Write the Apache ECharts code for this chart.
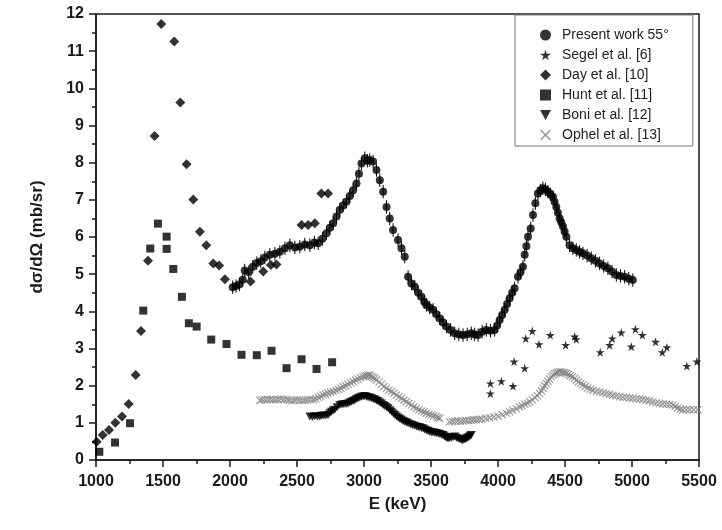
<!DOCTYPE html>
<html>
<head>
<meta charset="utf-8">
<script src="https://cdn.jsdelivr.net/npm/echarts@6/dist/echarts.min.js"></script>
<style>
  html, body { margin: 0; padding: 0; background: #fff; }
  #chart { width: 722px; height: 530px; }
</style>
</head>
<body>
<div id="chart"></div>
<script>
// x: energy E (keV), y: dσ/dΩ (mb/sr)
const presentE = [2020, 2045, 2070, 2095, 2110, 2140, 2170, 2200, 2230, 2260, 2297, 2335, 2372, 2410, 2447, 2484, 2521, 2558, 2596, 2630, 2658, 2690, 2720, 2745, 2770, 2795, 2819, 2844, 2869, 2894, 2919, 2944, 2962, 2981, 3006, 3025, 3043, 3068, 3093, 3118, 3143, 3168, 3192, 3217, 3254, 3280, 3304, 3329, 3354, 3379, 3404, 3429, 3450, 3466, 3490, 3516, 3540, 3565, 3590, 3615, 3646, 3677, 3708, 3739, 3770, 3801, 3826, 3851, 3882, 3913, 3944, 3975, 3994, 4012, 4031, 4050, 4068, 4087, 4106, 4124, 4149, 4168, 4186, 4199, 4212, 4224, 4244, 4261, 4279, 4298, 4316, 4335, 4354, 4373, 4391, 4410, 4422, 4435, 4447, 4460, 4472, 4485, 4497, 4510, 4534, 4559, 4584, 4609, 4634, 4665, 4696, 4727, 4758, 4789, 4820, 4851, 4883, 4914, 4945, 4976, 5006];
const presentY = [4.65, 4.68, 4.72, 4.85, 5.1, 5.05, 5.2, 5.3, 5.35, 5.45, 5.52, 5.55, 5.6, 5.7, 5.78, 5.72, 5.74, 5.8, 5.78, 5.85, 5.83, 5.95, 6.1, 6.25, 6.37, 6.55, 6.73, 6.85, 6.95, 7.1, 7.26, 7.44, 7.7, 7.98, 8.12, 8.05, 8.07, 8.03, 7.8, 7.53, 7.22, 6.81, 6.5, 6.19, 5.92, 5.7, 5.47, 4.93, 4.75, 4.66, 4.5, 4.39, 4.25, 4.17, 4.1, 4.04, 3.92, 3.81, 3.7, 3.59, 3.5, 3.41, 3.38, 3.36, 3.38, 3.41, 3.38, 3.36, 3.45, 3.5, 3.48, 3.5, 3.62, 3.77, 3.9, 4.04, 4.2, 4.35, 4.5, 4.62, 4.93, 5.05, 5.2, 5.52, 5.75, 6.01, 6.23, 6.59, 6.91, 7.17, 7.25, 7.31, 7.28, 7.22, 7.15, 7.08, 6.95, 6.81, 6.65, 6.5, 6.4, 6.28, 6.15, 6.01, 5.78, 5.7, 5.65, 5.6, 5.56, 5.5, 5.43, 5.36, 5.29, 5.22, 5.16, 5.07, 4.98, 4.95, 4.93, 4.88, 4.84];
const presentErr = 0.18;

const segelE = [3943, 3943, 4025, 4112, 4120, 4199, 4207, 4256, 4306, 4390, 4505, 4572, 4584, 4763, 4833, 4853, 4920, 4995, 5025, 5077, 5176, 5226, 5260, 5409, 5484];
const segelY = [2.06, 1.79, 2.12, 1.99, 2.65, 2.47, 3.27, 3.47, 3.11, 3.36, 3.09, 3.32, 3.25, 2.9, 3.09, 3.27, 3.43, 3.05, 3.52, 3.36, 3.18, 2.9, 3.03, 2.53, 2.65];

const dayE = [1005, 1050, 1097, 1144, 1194, 1244, 1296, 1336, 1388, 1437, 1487, 1584, 1629, 1676, 1726, 1775, 1823, 1875, 1919, 1962, 2153, 2248, 2305, 2347, 2534, 2583, 2633, 2682, 2732];
const dayY = [0.49, 0.67, 0.81, 1.0, 1.17, 1.51, 2.29, 3.47, 5.36, 8.72, 11.73, 11.26, 9.62, 7.96, 7.01, 6.14, 5.78, 5.29, 5.23, 4.86, 4.8, 5.07, 5.25, 5.26, 6.32, 6.32, 6.37, 7.17, 7.17];

const huntE = [1025, 1142, 1254, 1353, 1405, 1462, 1527, 1527, 1577, 1641, 1693, 1751, 1860, 1974, 2086, 2200, 2310, 2422, 2534, 2646, 2762];
const huntY = [0.22, 0.47, 0.99, 4.02, 5.69, 6.36, 6.01, 5.68, 5.14, 4.39, 3.68, 3.59, 3.24, 3.12, 2.83, 2.82, 2.94, 2.47, 2.71, 2.45, 2.63];

const boniE = [2596, 2615, 2633, 2652, 2670, 2685, 2700, 2716, 2732, 2745, 2757, 2770, 2782, 2800, 2819, 2835, 2850, 2866, 2881, 2894, 2906, 2919, 2931, 2944, 2956, 2969, 2981, 2994, 3006, 3019, 3031, 3044, 3056, 3069, 3081, 3093, 3105, 3118, 3130, 3143, 3155, 3168, 3180, 3193, 3205, 3218, 3230, 3243, 3255, 3267, 3279, 3292, 3304, 3317, 3329, 3345, 3360, 3375, 3391, 3404, 3416, 3429, 3441, 3453, 3465, 3478, 3490, 3503, 3515, 3528, 3540, 3553, 3565, 3578, 3590, 3599, 3608, 3618, 3627, 3640, 3652, 3665, 3677, 3690, 3702, 3715, 3727, 3737, 3746, 3755, 3764, 3774, 3783, 3792, 3801];
const boniY = [1.17, 1.16, 1.18, 1.17, 1.17, 1.19, 1.2, 1.2, 1.21, 1.26, 1.3, 1.33, 1.35, 1.42, 1.48, 1.49, 1.5, 1.51, 1.52, 1.55, 1.57, 1.59, 1.61, 1.64, 1.66, 1.68, 1.7, 1.71, 1.72, 1.7, 1.69, 1.68, 1.66, 1.64, 1.63, 1.6, 1.58, 1.55, 1.52, 1.48, 1.45, 1.42, 1.39, 1.34, 1.3, 1.25, 1.21, 1.17, 1.14, 1.11, 1.08, 1.05, 1.03, 1.01, 0.99, 0.96, 0.94, 0.92, 0.9, 0.89, 0.88, 0.86, 0.85, 0.82, 0.8, 0.78, 0.76, 0.75, 0.74, 0.73, 0.72, 0.71, 0.7, 0.68, 0.67, 0.64, 0.62, 0.6, 0.58, 0.59, 0.6, 0.62, 0.63, 0.6, 0.58, 0.56, 0.54, 0.54, 0.55, 0.56, 0.58, 0.6, 0.62, 0.65, 0.67];

const ophelE = [2223, 2240, 2260, 2280, 2300, 2320, 2340, 2360, 2380, 2400, 2422, 2440, 2460, 2480, 2500, 2520, 2540, 2560, 2580, 2600, 2621, 2640, 2660, 2678, 2695, 2712, 2730, 2750, 2770, 2790, 2810, 2827, 2844, 2862, 2880, 2900, 2919, 2937, 2955, 2974, 2993, 3007, 3020, 3032, 3043, 3055, 3068, 3080, 3093, 3112, 3130, 3149, 3168, 3186, 3205, 3224, 3242, 3261, 3280, 3298, 3317, 3335, 3354, 3372, 3391, 3410, 3430, 3448, 3466, 3485, 3503, 3521, 3540, 3552, 3565, 3638, 3659, 3680, 3700, 3720, 3740, 3760, 3780, 3800, 3819, 3838, 3859, 3880, 3909, 3938, 3969, 4000, 4031, 4062, 4086, 4110, 4136, 4161, 4180, 4200, 4218, 4236, 4256, 4275, 4293, 4311, 4324, 4336, 4348, 4361, 4373, 4385, 4398, 4410, 4422, 4435, 4447, 4460, 4472, 4485, 4497, 4510, 4525, 4540, 4556, 4572, 4586, 4600, 4617, 4634, 4652, 4670, 4690, 4709, 4735, 4760, 4784, 4808, 4832, 4857, 4882, 4907, 4932, 4957, 4982, 5006, 5031, 5056, 5081, 5106, 5130, 5155, 5180, 5205, 5230, 5255, 5280, 5305, 5322, 5340, 5360, 5379, 5405, 5430, 5460, 5491];
const ophelY = [1.61, 1.62, 1.62, 1.63, 1.63, 1.62, 1.62, 1.63, 1.64, 1.63, 1.63, 1.61, 1.6, 1.61, 1.62, 1.61, 1.6, 1.61, 1.62, 1.63, 1.63, 1.65, 1.68, 1.71, 1.75, 1.77, 1.8, 1.82, 1.84, 1.87, 1.9, 1.93, 1.97, 2.0, 2.04, 2.08, 2.11, 2.15, 2.18, 2.21, 2.24, 2.26, 2.27, 2.28, 2.29, 2.25, 2.22, 2.19, 2.15, 2.1, 2.04, 1.98, 1.93, 1.88, 1.84, 1.8, 1.75, 1.7, 1.66, 1.61, 1.57, 1.52, 1.48, 1.43, 1.39, 1.35, 1.32, 1.29, 1.26, 1.23, 1.21, 1.19, 1.17, 1.14, 1.12, 1.03, 1.04, 1.05, 1.05, 1.04, 1.05, 1.06, 1.06, 1.07, 1.08, 1.08, 1.09, 1.1, 1.12, 1.14, 1.16, 1.18, 1.22, 1.26, 1.3, 1.34, 1.38, 1.43, 1.46, 1.5, 1.53, 1.57, 1.62, 1.68, 1.73, 1.79, 1.86, 1.93, 2.0, 2.06, 2.12, 2.18, 2.24, 2.29, 2.32, 2.34, 2.36, 2.38, 2.37, 2.36, 2.35, 2.33, 2.3, 2.27, 2.24, 2.2, 2.15, 2.1, 2.06, 2.02, 1.98, 1.94, 1.91, 1.88, 1.85, 1.83, 1.81, 1.79, 1.77, 1.74, 1.72, 1.7, 1.69, 1.68, 1.67, 1.66, 1.65, 1.64, 1.63, 1.61, 1.59, 1.56, 1.54, 1.52, 1.51, 1.5, 1.49, 1.48, 1.44, 1.4, 1.37, 1.35, 1.35, 1.35, 1.35, 1.35];

const xTicks = { min: 1000, max: 5500, interval: 500 };
const yTicks = { min: 0, max: 12, interval: 1 };

const pair = (xs, ys) => xs.map((x, i) => [x, ys[i]]);

const STAR = 'path://M50,0 L61,35 L98,35 L68,57 L79,91 L50,70 L21,91 L32,57 L2,35 L39,35 Z';
const TRI_DOWN = 'path://M0,0 L10,0 L5,9 Z';
const CROSS = 'path://M0,1 L1,0 L5,4 L9,0 L10,1 L6,5 L10,9 L9,10 L5,6 L1,10 L0,9 L4,5 Z';

const FONT = '"Liberation Sans", Arial, sans-serif';
const INK = '#1a1a1a';

const axisCommon = {
  axisLine: { lineStyle: { color: INK, width: 1.5 } },
  axisTick: { inside: false, length: 7, lineStyle: { color: INK, width: 1.5 } },
  minorTick: { show: true, splitNumber: 2, length: 4, lineStyle: { color: INK, width: 1.5 } },
  splitLine: { show: false },
  axisLabel: { color: INK, fontSize: 16, fontWeight: 'bold', fontFamily: FONT, formatter: (v) => String(v) },
  nameTextStyle: { color: INK, fontSize: 17, fontWeight: 'bold', fontFamily: FONT },
};

const chart = echarts.init(document.getElementById('chart'));

chart.setOption({
  animation: false,
  backgroundColor: '#fff',
  grid: {
    left: 96, right: 23, top: 14, bottom: 70,
    show: true, borderColor: INK, borderWidth: 1.5,
  },
  legend: {
    left: 515, top: 15,
    orient: 'vertical',
    itemWidth: 11, itemHeight: 11, itemGap: 6,
    padding: [13, 24, 4, 25],
    borderColor: '#777', borderWidth: 1,
    backgroundColor: '#fff',
    textStyle: { color: '#222', fontSize: 14, lineHeight: 14, fontFamily: FONT, padding: [0, 0, 0, 6] },
    data: ['Present work 55°', 'Segel et al. [6]', 'Day et al. [10]', 'Hunt et al. [11]', 'Boni et al. [12]', 'Ophel et al. [13]'],
  },
  xAxis: {
    ...axisCommon,
    type: 'value',
    min: xTicks.min, max: xTicks.max, interval: xTicks.interval,
    name: 'E (keV)', nameLocation: 'middle', nameGap: 36,
    axisLabel: { ...axisCommon.axisLabel, margin: 14 },
  },
  yAxis: {
    ...axisCommon,
    type: 'value',
    min: yTicks.min, max: yTicks.max, interval: yTicks.interval,
    name: 'dσ/dΩ (mb/sr)', nameLocation: 'middle', nameGap: 50,
    axisLabel: { ...axisCommon.axisLabel, margin: 12 },
  },
  series: [
    {
      name: 'Ophel et al. [13]', type: 'scatter', symbol: CROSS, symbolSize: 8,
      itemStyle: { color: '#808080' }, data: pair(ophelE, ophelY), z: 2,
    },
    {
      name: 'Boni et al. [12]', type: 'scatter', symbol: TRI_DOWN, symbolSize: [9, 8],
      itemStyle: { color: '#000' }, data: pair(boniE, boniY), z: 3,
    },
    {
      name: 'Hunt et al. [11]', type: 'scatter', symbol: 'rect', symbolSize: 8,
      itemStyle: { color: '#000' }, data: pair(huntE, huntY), z: 3,
    },
    {
      name: 'Day et al. [10]', type: 'scatter', symbol: 'diamond', symbolSize: 10,
      itemStyle: { color: '#000' }, data: pair(dayE, dayY), z: 3,
    },
    {
      name: 'Segel et al. [6]', type: 'scatter', symbol: STAR, symbolSize: 9,
      itemStyle: { color: '#000' }, data: pair(segelE, segelY), z: 3,
    },
    {
      // error bars of the present data
      name: 'err', type: 'custom', z: 3, silent: true,
      data: pair(presentE, presentY),
      renderItem: (params, api) => {
        const top = api.coord([api.value(0), api.value(1) + presentErr]);
        const bot = api.coord([api.value(0), api.value(1) - presentErr]);
        return {
          type: 'line',
          shape: { x1: top[0], y1: top[1], x2: bot[0], y2: bot[1] },
          style: { stroke: '#000', lineWidth: 1 },
        };
      },
    },
    {
      name: 'Present work 55°', type: 'scatter', symbol: 'circle', symbolSize: 8,
      itemStyle: { color: '#000' }, data: pair(presentE, presentY), z: 4,
    },
  ],
});
</script>
</body>
</html>
